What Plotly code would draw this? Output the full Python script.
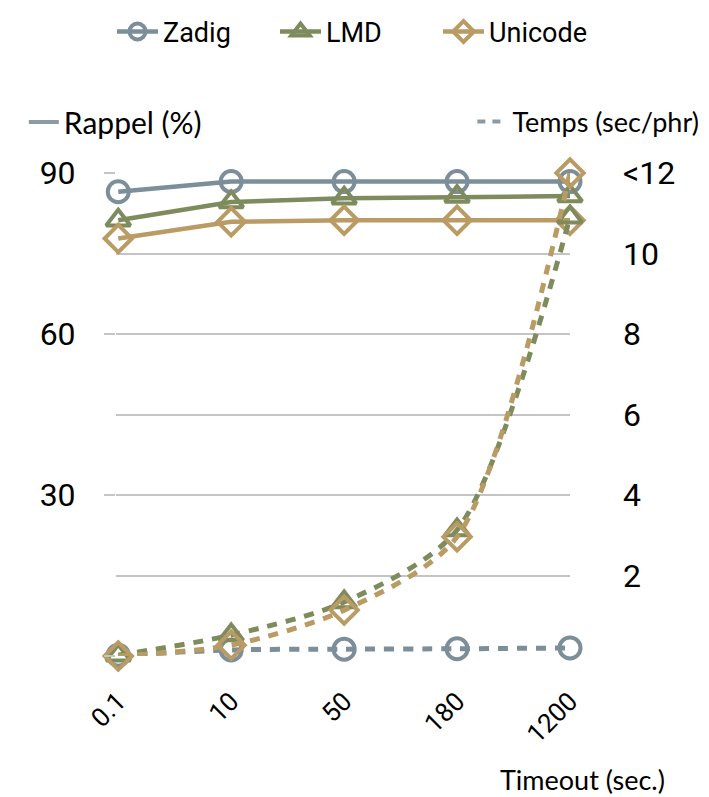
import plotly.graph_objects as go


# =====================================================
# DATA
# =====================================================

timeouts = ["0.1", "10", "50", "180", "1200"]

rappel_zadig = [86.5, 88.4, 88.4, 88.4, 88.4]
rappel_lmd = [81.2, 84.6, 85.3, 85.6, 85.7]
rappel_unicode = [77.8, 80.9, 81.2, 81.2, 81.2]

temps_zadig = [0.02, 0.15, 0.17, 0.18, 0.2]
temps_lmd = [0.02, 0.52, 1.34, 3.13, 10.9]
temps_unicode = [0.0, 0.27, 1.14, 2.96, 12.0]

left_ticks = [0, 30, 60, 90]
left_labels = ["", "30", "60", "90"]
left_minor = [15, 45, 75]

right_ticks = [2, 4, 6, 8, 10, 12]
right_labels = ["2", "4", "6", "8", "10", "<12"]


# =====================================================
# STYLE
# =====================================================

COND = "Roboto, sans-serif"
ROUND = "Lato, Noto Sans, sans-serif"
GRID = "#c4c4c4"

series = [
    ("Zadig", "#7b8e9a", "circle-open", rappel_zadig, temps_zadig),
    ("LMD", "#7e8b5d", "triangle-up-open", rappel_lmd, temps_lmd),
    ("Unicode", "#b99b63", "diamond-open", rappel_unicode, temps_unicode),
]


# =====================================================
# FIGURE
# =====================================================

fig = go.Figure()

for name, color, symbol, rappel, temps in series:

    fig.add_trace(
        go.Scatter(
            x=timeouts,
            y=temps,
            yaxis="y2",
            mode="lines+markers",
            name=name,
            showlegend=False,
            line=dict(color=color, width=5, dash="10px,9px",
                      shape="spline", smoothing=0.8),
            marker=dict(symbol=symbol, size=21, color=color,
                        line=dict(width=4, color=color)),
            cliponaxis=False
        )
    )

for name, color, symbol, rappel, temps in series:

    fig.add_trace(
        go.Scatter(
            x=timeouts,
            y=rappel,
            mode="lines+markers",
            name=name,
            legend="legend",
            line=dict(color=color, width=4.5),
            marker=dict(symbol=symbol, size=21, color=color,
                        line=dict(width=4, color=color)),
            cliponaxis=False
        )
    )

# line-style keys
fig.add_trace(
    go.Scatter(
        x=[None], y=[None], mode="lines", name="Rappel (%)",
        legend="legend2", line=dict(color="#8c9aa6", width=4)
    )
)

fig.add_trace(
    go.Scatter(
        x=[None], y=[None], mode="lines", name="Temps (sec/phr)",
        legend="legend3", line=dict(color="#8c9aa6", width=4, dash="8px,7px")
    )
)

# the page body adds an 8px offset, so the figure is 8px smaller
fig.update_layout(
    width=701,
    height=789,
    margin=dict(l=108, r=139, t=165, b=141, autoexpand=False),
    plot_bgcolor="white",
    paper_bgcolor="white",
    font=dict(family=COND, size=32, color="black"),
    legend=dict(
        orientation="h",
        x=-0.0088, xanchor="left",
        y=1.292, yanchor="middle",
        font=dict(family=COND, size=27),
        itemwidth=41,
        entrywidth=107
    ),
    legend2=dict(
        orientation="h",
        x=-0.203, xanchor="left",
        y=1.1056, yanchor="middle",
        font=dict(family=ROUND, size=30)
    ),
    legend3=dict(
        orientation="h",
        x=0.785, xanchor="left",
        y=1.1056, yanchor="middle",
        font=dict(family=ROUND, size=27)
    ),
    xaxis=dict(
        type="category",
        range=[-0.02, 4.0],
        showgrid=False,
        zeroline=False,
        showline=False,
        automargin=False,
        ticks="",
        tickangle=-45,
        ticklabelstandoff=24,
        tickfont=dict(family=COND, size=26)
    ),
    yaxis=dict(
        range=[0, 90],
        tickmode="array",
        tickvals=left_ticks,
        ticktext=left_labels,
        showgrid=True,
        gridcolor=GRID,
        gridwidth=2,
        zeroline=False,
        automargin=False,
        ticks="outside",
        ticklen=11,
        tickwidth=2,
        tickcolor=GRID,
        ticklabelstandoff=22,
        tickfont=dict(family=COND, size=32),
        minor=dict(tickvals=left_minor, showgrid=True,
                   gridcolor=GRID, gridwidth=2, ticks="")
    ),
    yaxis2=dict(
        range=[0, 12],
        overlaying="y",
        side="right",
        tickmode="array",
        tickvals=right_ticks,
        ticktext=right_labels,
        showgrid=False,
        zeroline=False,
        automargin=False,
        ticks="",
        ticklabelstandoff=52,
        tickfont=dict(family=COND, size=32)
    ),
    annotations=[
        dict(
            text="Timeout (sec.)",
            xref="paper", yref="paper",
            x=1.2137, y=-0.2567,
            xanchor="right", yanchor="middle",
            showarrow=False,
            font=dict(family=ROUND, size=27)
        )
    ]
)

fig.write_html("out.html")
